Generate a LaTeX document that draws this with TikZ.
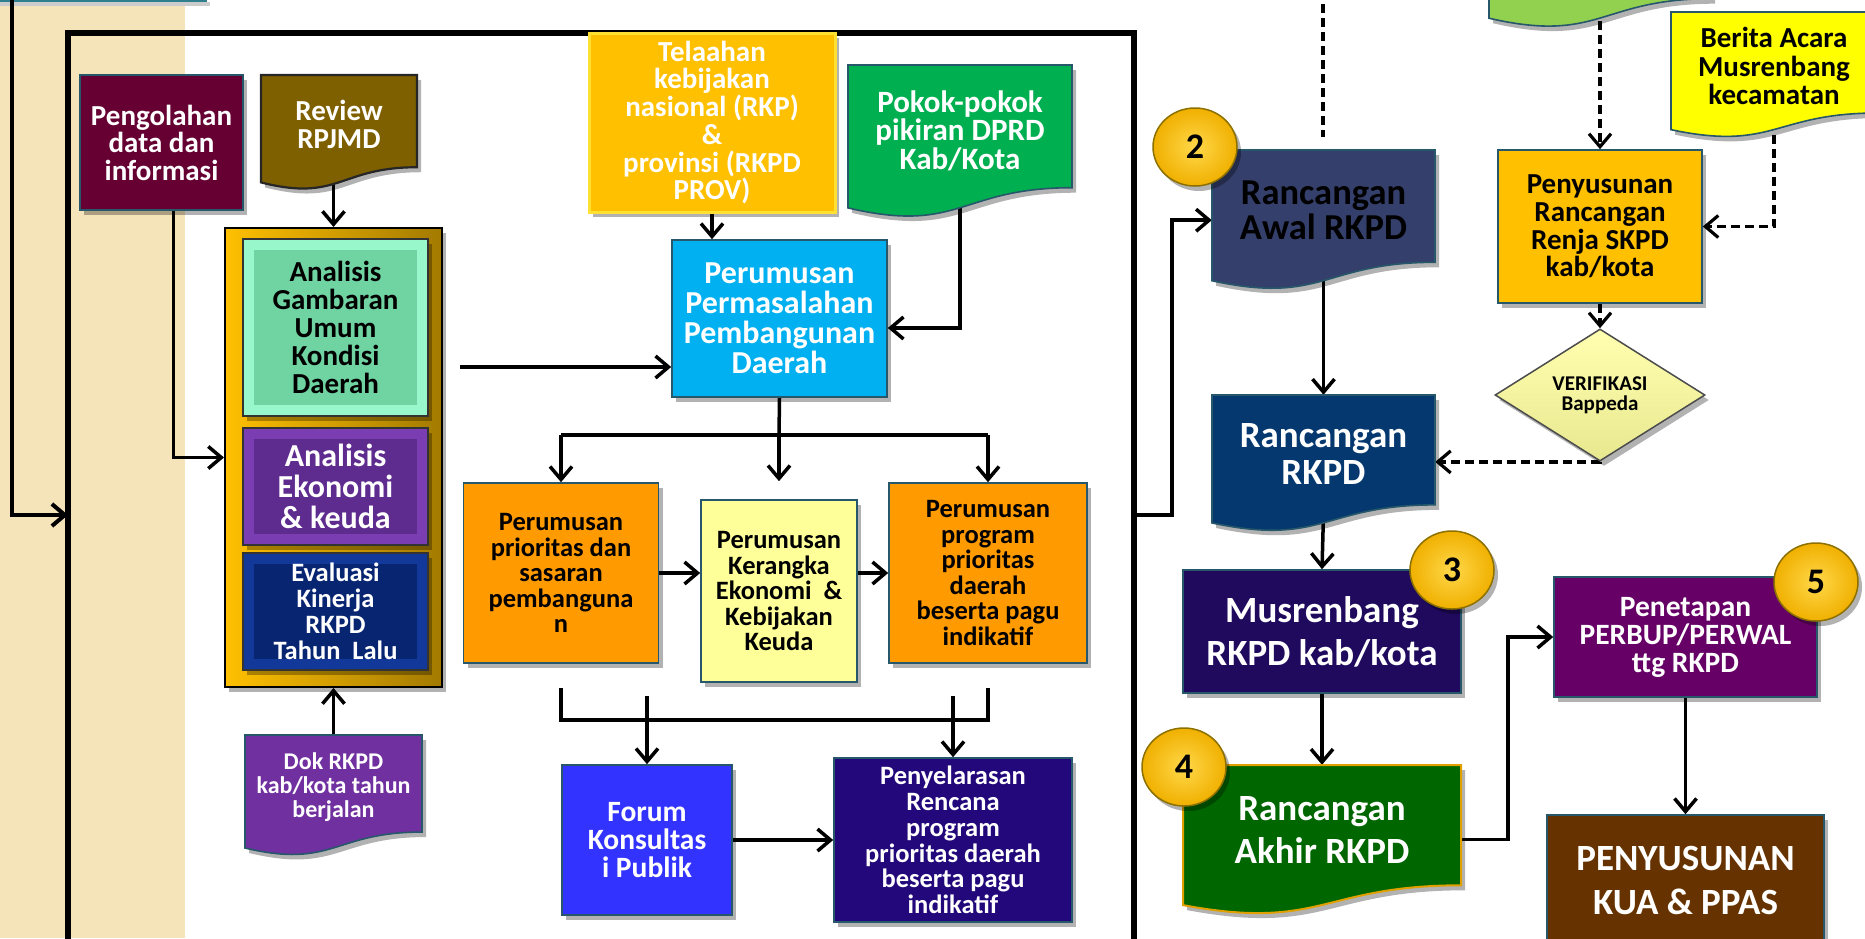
\documentclass[tikz,border=0pt]{standalone}
\usepackage{fontspec}
\setmainfont{Carlito}
\usetikzlibrary{arrows.meta,shadows,shapes.geometric}
\definecolor{tanbg}{HTML}{F5E3BA}
\definecolor{edge}{HTML}{27576A}
\definecolor{tealbar}{HTML}{2F7F8F}
\definecolor{pengc}{HTML}{660033}
\definecolor{revc}{HTML}{7F6000}
\definecolor{contc}{HTML}{FFC000}
\definecolor{contd}{HTML}{A37A00}
\definecolor{agc}{HTML}{6FD3A2}
\definecolor{agr}{HTML}{98F7CB}
\definecolor{aec}{HTML}{5E2B8F}
\definecolor{aer}{HTML}{7A3DB2}
\definecolor{evc}{HTML}{082572}
\definecolor{evr}{HTML}{12389A}
\definecolor{dokc}{HTML}{7030A0}
\definecolor{telc}{HTML}{FFC000}
\definecolor{telb}{HTML}{FFE033}
\definecolor{pokc}{HTML}{00B050}
\definecolor{permc}{HTML}{00B0F0}
\definecolor{ppc}{HTML}{FF9A00}
\definecolor{kerc}{HTML}{FFFF99}
\definecolor{forumc}{HTML}{3333FF}
\definecolor{selc}{HTML}{22087A}
\definecolor{rawc}{HTML}{343F6B}
\definecolor{rrc}{HTML}{04386E}
\definecolor{musc}{HTML}{1F0A5E}
\definecolor{rakc}{HTML}{006600}
\definecolor{rakb}{HTML}{E0A000}
\definecolor{petc}{HTML}{660066}
\definecolor{kuac}{HTML}{663300}
\definecolor{prenc}{HTML}{FFC000}
\definecolor{berc}{HTML}{FFFF00}
\definecolor{grnc}{HTML}{92D050}
\definecolor{diat}{HTML}{FFFFB0}
\definecolor{diab}{HTML}{E8E890}
\definecolor{goldi}{HTML}{FFD84A}
\definecolor{goldo}{HTML}{F0B000}
\definecolor{goldb}{HTML}{8C7000}
\pgfdeclarelayer{bg}
\pgfdeclarelayer{lines}
\pgfsetlayers{bg,lines,main}
% #1 name, #2 x1, #3 y1, #4 x2, #5 y2, #6 shape style, #7 node style, #8 text
\newcommand\docshape[8]{%
  \path[#6] (#2,#3) -- (#4,#3) -- (#4,{#3+0.802*(#5-(#3))})
    .. controls ({(#2+#4)/2},{#3+0.802*(#5-(#3))}) and ({(#2+#4)/2},{#3+1.107*(#5-(#3))}) ..
    (#2,{#3+0.934*(#5-(#3))}) -- cycle;
  \node[txt,#7,minimum width={#4-(#2)},minimum height={0.86*(#5-(#3))}] (#1)
    at ({(#2+#4)/2},{#3+0.43*(#5-(#3))}) {#8};
}
\begin{document}
\begin{tikzpicture}[x=1pt,y=-1pt,
  shd/.style={drop shadow={shadow xshift=4pt,shadow yshift=-5pt,opacity=0.3,fill=black}},
  box/.style={rectangle,inner sep=0pt,align=center,draw=edge,line width=1.6pt,shd},
  bevel/.style={path picture={\fill[#1] ([xshift=11pt,yshift=-11pt]path picture bounding box.north west)
      rectangle ([xshift=-11pt,yshift=11pt]path picture bounding box.south east);}},
  txt/.style={rectangle,inner sep=0pt,align=center},
  fs/.style 2 args={font=\bfseries\fontsize{#1}{#2}\selectfont},
  ln/.style={line width=3.5pt},
  conn/.style={line width=3.5pt,-{Straight Barb[length=13pt,width=22pt]}},
  dline/.style={line width=3.2pt,dash pattern=on 9pt off 5pt},
  dconn/.style={dline,-{Straight Barb[length=13pt,width=22pt]}},
  num/.style={ellipse,minimum width=84pt,minimum height=78pt,inner sep=0pt,
    shading=radial,inner color=goldi,outer color=goldo,draw=goldb,line width=1.5pt,
    shd,fs={36}{36}}
]
\useasboundingbox (0,0) rectangle (1865,938);

\begin{pgfonlayer}{bg}
  \fill[tanbg] (0,0) rectangle (185,938);
  \fill[black!20] (0,2) rectangle (210,6);
  \fill[tealbar] (0,-5) rectangle (207,2);
  \draw[line width=5.5pt] (68,1000) -- (68,33) -- (1134,33) -- (1134,1000);
\end{pgfonlayer}
\coordinate (bxL) at (68,515);
\coordinate (bxR) at (1134,515);
\coordinate (lt) at (12,-10);

% ---------- left block ----------
\node[box,fill=pengc,text=white,fs={29}{27.5},minimum width=163pt,minimum height=135pt]
  (peng) at (161.5,142.5) {Pengolahan\\data dan\\informasi};
\docshape{rev}{261}{75}{417}{190}{fill=revc,draw=black!85,line width=2.2pt,shd}{text=white,fs={29}{27.7}}{Review\\RPJMD}

\node[rectangle,draw=black,line width=2pt,left color=contc,middle color=contc,right color=contd,shd,
  minimum width=217pt,minimum height=459pt] (cont) at (333.5,457.5) {};
\node[box,draw=black!80,line width=2pt,fill=agr,bevel=agc,text=black,fs={29}{28},minimum width=185pt,minimum height=177pt]
  (ag) at (335.5,327.5) {Analisis\\Gambaran\\Umum\\Kondisi\\Daerah};
\node[box,draw=black!80,line width=2pt,fill=aer,bevel=aec,text=white,fs={32}{31},minimum width=185pt,minimum height=117pt]
  (ae) at (335.5,486.5) {Analisis\\Ekonomi\\\& keuda};
\node[box,draw=black!80,line width=2pt,fill=evr,bevel=evc,text=white,fs={26.5}{26},minimum width=185pt,minimum height=117pt]
  (ev) at (335.5,611.5) {Evaluasi\\Kinerja\\RKPD\\Tahun~~Lalu};
\docshape{dok}{245}{735}{422}{856}{fill=dokc,draw=edge,line width=1.6pt,shd}{text=white,fs={24}{24}}{Dok RKPD\\kab/kota tahun\\berjalan}

% ---------- middle block ----------
\node[box,fill=telc,draw=telb,line width=3pt,text=white,fs={29}{27.7},minimum width=246pt,minimum height=179pt]
  (tel) at (712,122.5) {Telaahan\\kebijakan\\nasional (RKP)\\\&\\provinsi (RKPD\\PROV)};
\docshape{pok}{848}{65}{1072}{218}{fill=pokc,draw=edge,line width=1.6pt,shd}{text=white,fs={31}{28.5}}{Pokok-pokok\\pikiran DPRD\\Kab/Kota}
\node[box,fill=permc,text=white,fs={32}{30},minimum width=215pt,minimum height=157pt]
  (perm) at (779.5,318.5) {Perumusan\\Permasalahan\\Pembangunan\\Daerah};
\node[box,fill=ppc,text=black,fs={26.5}{25.5},minimum width=195pt,minimum height=180pt]
  (pp) at (561,573) {Perumusan\\prioritas dan\\sasaran\\pembanguna\\n};
\node[box,fill=kerc,text=black,fs={26.5}{25.5},minimum width=156pt,minimum height=182pt]
  (ker) at (779,591) {Perumusan\\Kerangka\\Ekonomi~~\&\\Kebijakan\\Keuda};
\node[box,fill=ppc,text=black,fs={26.5}{25.5},minimum width=198pt,minimum height=180pt]
  (pr) at (988,573) {Perumusan\\program\\prioritas\\daerah\\beserta pagu\\indikatif};
\node[box,fill=forumc,text=white,fs={29.5}{28.3},minimum width=170pt,minimum height=150pt]
  (forum) at (647,840) {Forum\\Konsultas\\i Publik};
\node[box,fill=selc,text=white,fs={26.5}{25.7},minimum width=238pt,minimum height=164pt]
  (sel) at (953,840) {Penyelarasan\\Rencana\\program\\prioritas daerah\\beserta pagu\\indikatif};

% ---------- right block ----------
\docshape{grn}{1489}{-120}{1711}{28}{fill=grnc,draw=edge,line width=1.6pt,shd}{minimum height=138pt}{}
\docshape{ber}{1671}{12}{1877}{138}{fill=berc,draw=edge,line width=1.6pt,shd}{text=black,fs={29}{28.3}}{Berita Acara\\Musrenbang\\kecamatan}
\node[box,fill=prenc,text=black,fs={29}{27.6},minimum width=204pt,minimum height=153pt]
  (pren) at (1600,226.5) {Penyusunan\\Rancangan\\Renja SKPD\\kab/kota};
\node[diamond,inner sep=0pt,minimum width=210pt,minimum height=104pt,top color=diat,bottom color=diab,
  draw=black!70,line width=1.5pt,shd,align=center,fs={21}{20}]
  (dia) at (1600,395) {VERIFIKASI\\Bappeda};
\docshape{raw}{1212}{150}{1435}{290}{fill=rawc,draw=edge,line width=1.6pt,shd}{text=black,fs={36.5}{35}}{Rancangan\\Awal RKPD}
\docshape{rr}{1212}{395}{1435}{532}{fill=rrc,draw=edge,line width=1.6pt,shd}{text=white,fs={37}{36.5}}{Rancangan\\RKPD}
\node[box,fill=musc,text=white,fs={37}{43},minimum width=278pt,minimum height=123pt]
  (mus) at (1322,631.5) {Musrenbang\\RKPD kab/kota};
\docshape{rak}{1183}{765}{1461}{915}{fill=rakc,draw=rakb,line width=2pt,shd}{text=white,fs={37}{43}}{Rancangan\\Akhir RKPD}
\node[box,fill=petc,text=white,fs={29.5}{28},minimum width=263pt,minimum height=120pt]
  (pet) at (1685.5,637) {Penetapan\\PERBUP/PERWAL\\ttg RKPD};
\node[box,fill=kuac,text=white,fs={37}{44},minimum width=277pt,minimum height=130pt]
  (kua) at (1685.5,880) {PENYUSUNAN\\KUA \& PPAS};

\node[num] (n2) at (1195,147) {2};
\node[num] (n3) at (1452,570) {3};
\node[num] (n4) at (1184,767) {4};
\node[num] (n5) at (1816,582) {5};

\coordinate (cp) at (460,367);
\coordinate (bt) at (779,435);
\coordinate (bb) at (779,720);
\coordinate (dA) at (1323,-10);
\coordinate (dB) at (1323,137);

% ---------- connectors ----------
\begin{pgfonlayer}{lines}
  \draw[conn,line width=4pt] (lt) |- (bxL);
  \draw[conn] ([xshift=12pt]peng.south) |- (cont.west);
  \draw[conn] (cont.north |- rev.south) -- (cont.north);
  \draw[conn] (dok.north -| cont.south) -- (cont.south);
  \draw[conn] (cp) -- (cp -| perm.west);
  \draw[conn] (tel.south) -- (tel.south |- perm.north);
  \draw[conn] (pok.south) |- ([yshift=-9.5pt]perm.east);
  \draw[ln] (perm.south) -- (bt);
  \draw[ln] (pp.north |- bt) -- (pr.north |- bt);
  \draw[conn] (pp.north |- bt) -- (pp.north);
  \draw[conn,shorten >=18pt] (bt) -- (ker.north);
  \draw[conn] (pr.north |- bt) -- (pr.north);
  \draw[conn] (pp.east) -- (pp.east -| ker.west);
  \draw[conn] (ker.east |- pp.east) -- (pr.west);
  \draw[ln] ([yshift=-24pt]pp.south) -- (pp.south |- bb) -- (pr.south |- bb) -- ([yshift=-24pt]pr.south);
  \draw[conn] ([yshift=68pt]forum.north) -- (forum.north);
  \draw[conn] ([yshift=61pt]sel.north) -- (sel.north);
  \draw[conn] (forum.east) -- (sel.west);
  \draw[conn] (bxR) -- ++(38,0) |- ([yshift=-10pt]raw.west);
  \draw[conn] (raw.south) -- (rr.north);
  \draw[conn] (rr.south) -- (mus.north);
  \draw[conn] (mus.south) -- (rak.north);
  \draw[conn] ([yshift=-10pt]rak.east) -- ++(47,0) |- (pet.west);
  \draw[conn] (pet.south) -- (kua.north);
  \draw[dline] (dA) -- (dB);
  \draw[dconn] (grn.south) -- (pren.north);
  \draw[dconn] (ber.south) |- (pren.east);
  \draw[dconn] (pren.south) -- (dia.north);
  \draw[dconn] (dia.south) |- ([yshift=-8pt]rr.east);
\end{pgfonlayer}
\end{tikzpicture}
\end{document}
